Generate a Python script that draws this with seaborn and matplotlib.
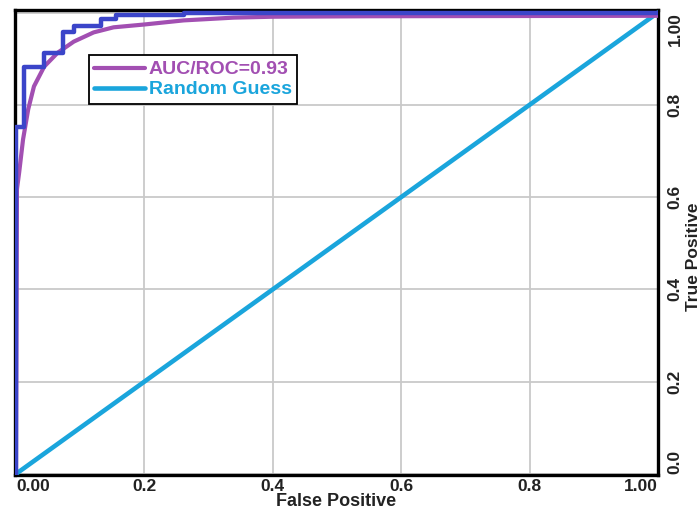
import matplotlib
matplotlib.use("Agg")
import matplotlib.pyplot as plt
import seaborn as sns

# ROC data
step_fpr = [0.0, 0.0, 0.0125, 0.0125, 0.0435, 0.0435, 0.073, 0.073, 0.090, 0.090,
            0.132, 0.132, 0.156, 0.156, 0.261, 0.261, 1.0]
step_tpr = [0.0, 0.751, 0.751, 0.881, 0.881, 0.913, 0.913, 0.957, 0.957, 0.970,
            0.970, 0.985, 0.985, 0.994, 0.994, 1.0, 1.0]

fit_fpr = [0.0, 0.0015, 0.005, 0.011, 0.019, 0.028, 0.044, 0.065, 0.090, 0.121,
           0.152, 0.199, 0.261, 0.339, 0.401, 0.55, 1.0]
fit_tpr = [0.0, 0.617, 0.654, 0.725, 0.790, 0.840, 0.883, 0.913, 0.937, 0.957,
           0.968, 0.974, 0.983, 0.989, 0.991, 0.992, 0.993]

guess = [0.0, 1.0]

auc_label = "AUC/ROC=0.93"
guess_label = "Random Guess"
ticks = [0.0, 0.2, 0.4, 0.6, 0.8, 1.0]
xtick_labels = ["0.00", "0.2", "0.4", "0.6", "0.8", "1.00"]
ytick_labels = ["0.0", "0.2", "0.4", "0.6", "0.8", "1.00"]

c_step = "#3b45c9"
c_fit = "#a24fb2"
c_guess = "#1aa5dc"

sns.set_style("whitegrid")
plt.rcParams["font.family"] = ["Liberation Sans", "DejaVu Sans"]

fig = plt.figure(figsize=(7, 5.15), dpi=100)
ax = fig.add_axes([0.021, 0.078, 0.919, 0.903])

sns.lineplot(x=guess, y=guess, color=c_guess, linewidth=3.3, label=guess_label,
             sort=False, estimator=None, ax=ax, zorder=3)
sns.lineplot(x=fit_fpr, y=fit_tpr, color=c_fit, linewidth=3.0, label=auc_label,
             sort=False, estimator=None, ax=ax, zorder=4)
sns.lineplot(x=step_fpr, y=step_tpr, color=c_step, linewidth=3.2,
             sort=False, estimator=None, ax=ax, zorder=5)

ax.set_xlim(-0.002, 1.0)
ax.set_ylim(-0.002, 1.006)

ax.grid(True, color="#c9c9c9", linewidth=1.3)
for s in ax.spines.values():
    s.set_color("black")
    s.set_linewidth(2.4)
    s.set_visible(True)

ax.set_xticks(ticks)
ax.set_xticklabels(xtick_labels, fontsize=12.5, fontweight="bold", color="#222222")
xl = ax.get_xticklabels()
xl[0].set_ha("left")
xl[-1].set_ha("right")

ax.yaxis.tick_right()
ax.yaxis.set_label_position("right")
ax.set_yticks(ticks)
ax.set_yticklabels(ytick_labels, fontsize=12.5, fontweight="bold", color="#222222",
                   rotation=90, va="center")
yl = ax.get_yticklabels()
yl[0].set_va("bottom")
yl[-1].set_va("top")
ax.tick_params(axis="x", length=0, pad=3)
ax.tick_params(axis="y", length=0, pad=7)

ax.set_xlabel("False Positive", fontsize=13, fontweight="bold", color="#222222", labelpad=-1)
ax.set_ylabel("True Positive", fontsize=12.5, fontweight="bold", color="#222222", rotation=90)
ax.yaxis.label.set_va("center")
ax.yaxis.set_label_coords(1.055, 0.47)

handles, labels = ax.get_legend_handles_labels()
order = [labels.index(auc_label), labels.index(guess_label)]
leg = ax.legend([handles[i] for i in order], [labels[i] for i in order],
                loc="upper left", bbox_to_anchor=(0.115, 0.902), borderaxespad=0,
                fancybox=False, framealpha=1, edgecolor="black",
                handlelength=2.6, handletextpad=0.2, borderpad=0.28,
                labelspacing=0.12, prop={"weight": "bold", "size": 14})
leg.get_frame().set_linewidth(1.3)
for txt, col in zip(leg.get_texts(), [c_fit, c_guess]):
    txt.set_color(col)

fig.savefig("out.png", dpi=100)
